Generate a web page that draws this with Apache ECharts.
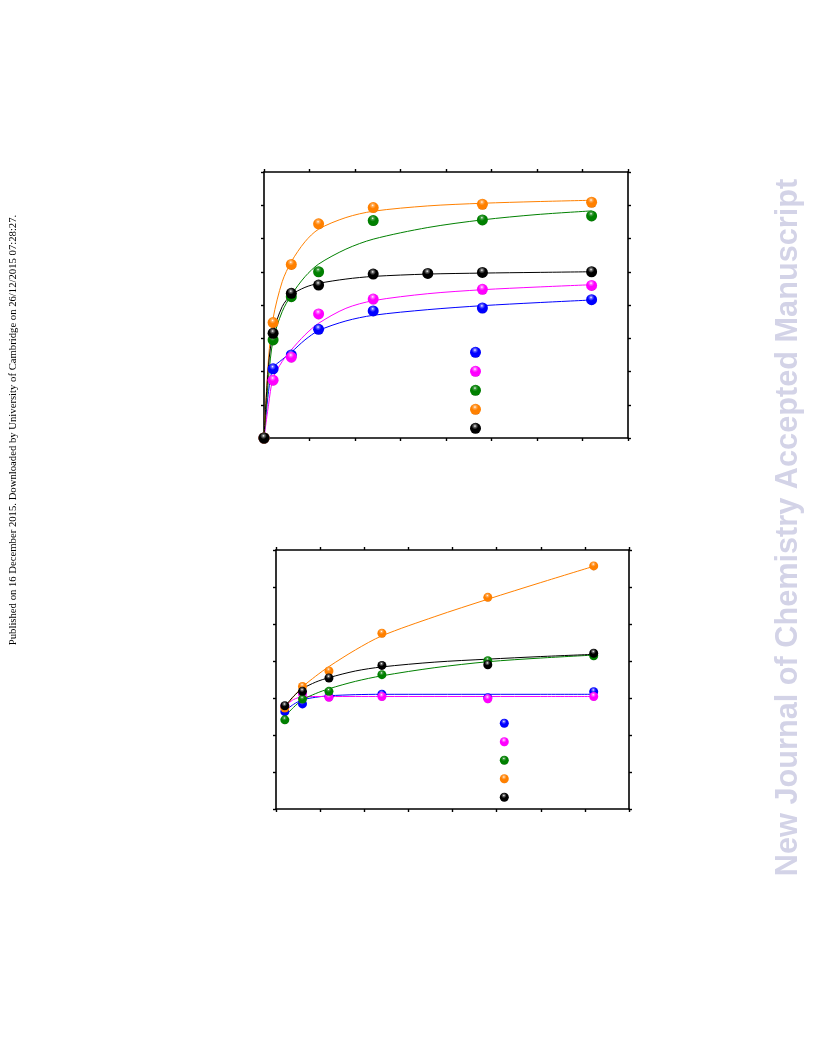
<!DOCTYPE html>
<html>
<head>
<meta charset="utf-8">
<script src="https://cdn.jsdelivr.net/npm/echarts@6/dist/echarts.min.js"></script>
<style>
html,body{margin:0;padding:0;background:#fff;}
#chart{width:816px;height:1056px;}
</style>
</head>
<body>
<div id="chart"></div>
<script>
// ---------- Top panel data ----------
const topTimes = [0, 10, 30, 60, 120, 240, 360];
const topBlackTimes = [0, 10, 30, 60, 120, 180, 240, 360];
const topBlue = [0, 20.8, 25.0, 32.7, 38.2, 39.1, 41.6];
const topPink = [0, 17.4, 24.3, 37.3, 41.8, 44.7, 45.9];
const topGreen = [0, 29.5, 42.5, 50.0, 65.4, 65.6, 66.8];
const topOrange = [0, 34.7, 52.2, 64.4, 69.3, 70.3, 70.9];
const topBlack = [0, 31.5, 43.5, 46.0, 49.3, 49.5, 49.8, 50.0];

const topFitTimes = [0, 5, 10, 20, 30, 45, 60, 90, 120, 180, 240, 300, 360];
const topBlueFit = [0, 14, 21, 23.6, 25.8, 29.5, 32.3, 35.2, 36.9, 38.6, 39.8, 40.7, 41.5];
const topPinkFit = [0, 10, 18, 23, 26.5, 31, 34.5, 39, 41.3, 43.4, 44.6, 45.4, 46.1];
const topGreenFit = [0, 18, 29.5, 38, 43, 48.5, 52.3, 56.8, 59.8, 63.3, 65.6, 67.2, 68.3];
const topOrangeFit = [0, 24, 36, 47, 53, 59, 62.8, 66.3, 68.2, 69.8, 70.6, 71.1, 71.5];
const topBlackFit = [0, 22, 31.5, 39.5, 43, 45.3, 46.5, 47.8, 48.6, 49.3, 49.6, 49.8, 50];

// ---------- Bottom panel data ----------
const botTimes = [10, 30, 60, 120, 240, 360];
const botBlue = [26.3, 28.4, 30.4, 31.0, 30.1, 31.7];
const botPink = [27.7, 31.1, 30.2, 30.4, 29.8, 30.4];
const botGreen = [24.1, 29.7, 31.8, 36.3, 40.1, 41.4];
const botOrange = [27.3, 33.1, 37.3, 47.5, 57.2, 65.7];
const botBlack = [27.9, 31.8, 35.4, 38.8, 39.0, 42.1];

const botFitTimes = [10, 20, 30, 45, 60, 90, 120, 180, 240, 300, 360];
const botBlueFit = [26.5, 28.3, 29.5, 30.2, 30.6, 30.9, 31, 31, 31, 31, 31];
const botPinkFit = [27.8, 29.6, 30.3, 30.4, 30.4, 30.4, 30.4, 30.4, 30.4, 30.4, 30.4];
const botGreenFit = [25, 27.5, 29.5, 31.2, 32.5, 34.5, 36, 38.2, 39.8, 40.8, 41.6];
const botOrangeFit = [27.5, 30.4, 33.0, 35.9, 38.5, 43.0, 46.8, 52.0, 56.7, 61.2, 65.6];
const botBlackFit = [27.7, 30.5, 32.5, 34.3, 35.5, 37.3, 38.4, 39.7, 40.5, 41.2, 41.8];

// axis settings (tick label values)
const xMax = 400, xStep = 50;
const topYMax = 80, topYStep = 10;
const botYMax = 70, botYStep = 10;

const colors = {
  blue: ['#0000ff', '#6a6aff', '#000090'],
  pink: ['#ff00ff', '#ff70ff', '#a000a0'],
  green: ['#008000', '#4aa04a', '#004400'],
  orange: ['#ff8000', '#ffb060', '#b05000'],
  black: ['#000000', '#707070', '#000000']
};

function ball(c) {
  return {
    type: 'radial', x: 0.45, y: 0.3, r: 0.75,
    colorStops: [
      { offset: 0, color: '#ffffff' },
      { offset: 0.15, color: c[1] },
      { offset: 0.4, color: c[0] },
      { offset: 0.85, color: c[0] },
      { offset: 1, color: c[2] }
    ]
  };
}
const zip = (xs, ys) => xs.map((x, i) => [x, ys[i]]);

function axisPair(gridIndex, max, step, pos) {
  return {
    type: 'value', gridIndex: gridIndex, min: 0, max: max, interval: step,
    position: pos,
    axisLine: { show: true, onZero: false, lineStyle: { color: '#000', width: 1.6 } },
    axisTick: { show: true, inside: false, length: 3, lineStyle: { color: '#000', width: 1.4 } },
    axisLabel: { show: false },
    splitLine: { show: false }
  };
}

const xAxes = [
  axisPair(0, xMax, xStep, 'bottom'),
  axisPair(0, xMax, xStep, 'top'),
  axisPair(1, xMax, xStep, 'bottom'),
  axisPair(1, xMax, xStep, 'top')
];
const yAxes = [
  axisPair(0, topYMax, topYStep, 'left'),
  axisPair(0, topYMax, topYStep, 'right'),
  axisPair(1, botYMax, botYStep, 'left'),
  axisPair(1, botYMax, botYStep, 'right')
];

function fitSeries(name, xi, yi, xs, ys, c) {
  return {
    name: name, type: 'line', xAxisIndex: xi, yAxisIndex: yi,
    data: zip(xs, ys), smooth: 0.3, showSymbol: false, symbol: 'none',
    lineStyle: { color: c[0], width: 1 }, z: 2, silent: true
  };
}
function ptSeries(name, xi, yi, xs, ys, c, size) {
  return {
    name: name, type: 'scatter', xAxisIndex: xi, yAxisIndex: yi,
    data: zip(xs, ys), symbol: 'circle', symbolSize: size,
    itemStyle: { color: ball(c), borderWidth: 0, opacity: 1 }, z: 5
  };
}

const series = [
  fitSeries('fit top blue', 0, 0, topFitTimes, topBlueFit, colors.blue),
  fitSeries('fit top pink', 0, 0, topFitTimes, topPinkFit, colors.pink),
  fitSeries('fit top green', 0, 0, topFitTimes, topGreenFit, colors.green),
  fitSeries('fit top orange', 0, 0, topFitTimes, topOrangeFit, colors.orange),
  fitSeries('fit top black', 0, 0, topFitTimes, topBlackFit, colors.black),
  ptSeries('top blue', 0, 0, topTimes, topBlue, colors.blue, 11),
  ptSeries('top pink', 0, 0, topTimes, topPink, colors.pink, 11),
  ptSeries('top green', 0, 0, topTimes, topGreen, colors.green, 11),
  ptSeries('top orange', 0, 0, topTimes, topOrange, colors.orange, 11),
  ptSeries('top black', 0, 0, topBlackTimes, topBlack, colors.black, 11),

  fitSeries('fit bottom blue', 2, 2, botFitTimes, botBlueFit, colors.blue),
  fitSeries('fit bottom pink', 2, 2, botFitTimes, botPinkFit, colors.pink),
  fitSeries('fit bottom green', 2, 2, botFitTimes, botGreenFit, colors.green),
  fitSeries('fit bottom orange', 2, 2, botFitTimes, botOrangeFit, colors.orange),
  fitSeries('fit bottom black', 2, 2, botFitTimes, botBlackFit, colors.black),
  ptSeries('bottom blue', 2, 2, botTimes, botBlue, colors.blue, 9),
  ptSeries('bottom pink', 2, 2, botTimes, botPink, colors.pink, 9),
  ptSeries('bottom green', 2, 2, botTimes, botGreen, colors.green, 9),
  ptSeries('bottom orange', 2, 2, botTimes, botOrange, colors.orange, 9),
  ptSeries('bottom black', 2, 2, botTimes, botBlack, colors.black, 9)
];

const chart = echarts.init(document.getElementById('chart'), null, { renderer: 'canvas' });
chart.setOption({
  backgroundColor: '#ffffff',
  animation: false,
  grid: [
    { left: 264, top: 172, width: 364, height: 266, containLabel: false },
    { left: 276, top: 550, width: 353, height: 259, containLabel: false }
  ],
  xAxis: xAxes,
  yAxis: yAxes,
  legend: [
    {
      data: ['top blue', 'top pink', 'top green', 'top orange', 'top black'],
      orient: 'vertical', left: 470, top: 346.8, padding: 0,
      itemWidth: 11, itemHeight: 11, itemGap: 8, icon: 'circle',
      formatter: function () { return ''; }, selectedMode: false,
      textStyle: { fontSize: 1 }
    },
    {
      data: ['bottom blue', 'bottom pink', 'bottom green', 'bottom orange', 'bottom black'],
      orient: 'vertical', left: 499.8, top: 718.8, padding: 0,
      itemWidth: 9, itemHeight: 9, itemGap: 9.5, icon: 'circle',
      formatter: function () { return ''; }, selectedMode: false,
      textStyle: { fontSize: 1 }
    }
  ],
  graphic: [
    {
      type: 'text', x: 13, y: 430, rotation: Math.PI / 2,
      style: {
        text: 'Published on 16 December 2015. Downloaded by University of Cambridge on 26/12/2015 07:28:27.',
        font: '10.7px "Liberation Serif", "Times New Roman", serif',
        fill: '#000', align: 'center', verticalAlign: 'middle'
      }
    },
    {
      type: 'text', x: 789, y: 527.5, rotation: Math.PI / 2,
      style: {
        text: 'New Journal of Chemistry Accepted Manuscript',
        font: 'bold 30.7px "Liberation Sans", Arial, sans-serif',
        fill: '#d3d3e7', align: 'center', verticalAlign: 'middle'
      }
    }
  ],
  series: series
});
</script>
</body>
</html>
